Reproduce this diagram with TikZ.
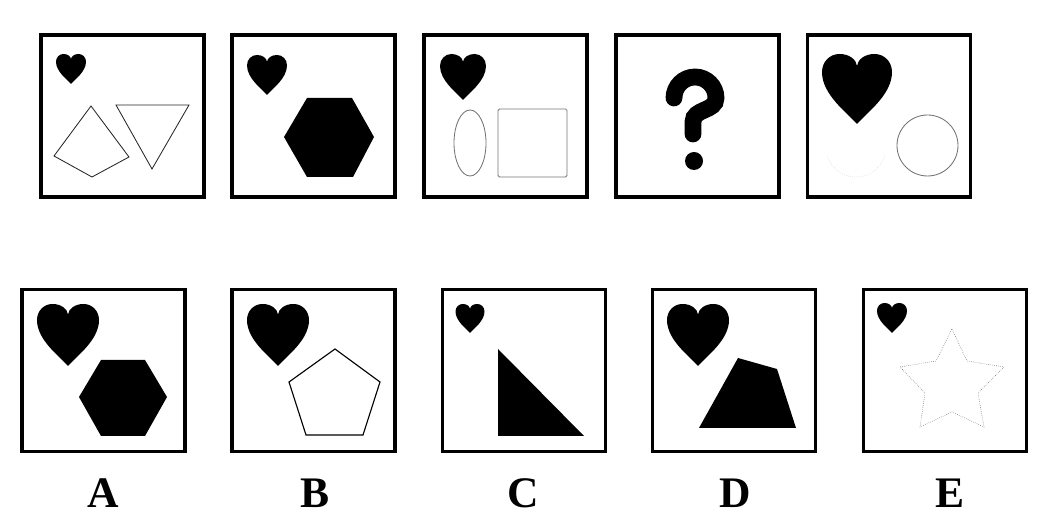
\documentclass[tikz,border=0pt]{standalone}
\usepackage{fontspec}
\setmainfont{Liberation Serif}
\usetikzlibrary{positioning}

\tikzset{
  heart/.pic={\fill (0,1) .. controls (-0.14,0.84) and (-0.5,0.58) .. (-0.5,0.26)
     .. controls (-0.5,0.11) and (-0.39,0) .. (-0.25,0)
     .. controls (-0.11,0) and (-0.01,0.08) .. (0,0.17)
     .. controls (0.01,0.08) and (0.11,0) .. (0.25,0)
     .. controls (0.39,0) and (0.5,0.11) .. (0.5,0.26)
     .. controls (0.5,0.58) and (0.14,0.84) .. (0,1) -- cycle;}
}

\begin{document}
\begin{tikzpicture}[
    x=0.025cm, y=-0.025cm,
    panel/.style={draw, line width=2.6pt, inner sep=0pt,
                  minimum width=4.07cm, minimum height=4.05cm},
    lbl/.style={font=\fontsize{31}{31}\selectfont\bfseries, inner sep=0pt},
    outline/.style={line width=0.6pt, black!85},
    grayline/.style={line width=0.6pt, black!55},
]
\useasboundingbox (0,0) rectangle (1054,523);

% question row
\node[panel] (p1) at (122.5,116) {};
\node[panel] (p2) at (313.5,116) {};
\node[panel] (p3) at (505.5,116) {};
\node[panel] (p4) at (697.5,116) {};
\node[panel] (p5) at (889,116) {};

\pic[scale=30] at (71,54) {heart};
\draw[outline] (91,106) -- (54,156) -- (92,177) -- (129,157) -- cycle;
\draw[outline] (116,105) -- (189,105) -- (152,169) -- cycle;

\pic[scale=40] at (267,55) {heart};
\fill (307,98) -- (352,98) -- (374,137) -- (353,177) -- (307,177) -- (284,137) -- cycle;

\pic[scale=46] at (463,54) {heart};
\draw[grayline] (470,143) ellipse[x radius=16, y radius=33];
\draw[grayline, rounded corners=1pt] (498,109) rectangle (567,177);

\draw[line width=0.42cm, line cap=round] (674,98) arc[start angle=180, end angle=360, radius=21]
    .. controls (716,112) and (693,108) .. (693,122) -- (693,134);
\fill (694,161) circle[radius=9];

\pic[scale=70] at (857,54) {heart};
\draw[black!12, line width=0.5pt, densely dotted] (856,147) ++(15:30) arc[start angle=15, end angle=165, radius=30];
\draw[grayline] (927.5,145.5) circle[radius=30.5];

% answer row
\node[panel] (a) at (103.5,370.5) {};
\node[panel] (b) at (313.5,370.5) {};
\node[panel] (c) at (524,370.5) {};
\node[panel] (d) at (734,370.5) {};
\node[panel] (e) at (945,370.5) {};

\pic[scale=62] at (68,304) {heart};
\fill (101,360) -- (145,360) -- (167,397) -- (145,436) -- (101,436) -- (79,397) -- cycle;

\pic[scale=62] at (278,304) {heart};
\draw[line width=0.8pt] (335,349) -- (380,382) -- (363,435) -- (306,435) -- (289,382) -- cycle;

\pic[scale=29] at (470,304) {heart};
\fill (498,349) -- (498,436) -- (584,436) -- cycle;

\pic[scale=62] at (698,304) {heart};
\fill (738,358) -- (777,369) -- (796,428) -- (699,428) -- cycle;

\pic[scale=30] at (892,303) {heart};
\draw[black!60, line width=0.4pt, densely dotted] (952,329) -- (967,361) -- (1004,367) -- (978,393)
    -- (984,427) -- (952,412) -- (920,427) -- (925,393) -- (900,367) -- (936,361) -- cycle;

\node[lbl] (la) at (103,493) {A};
\node[lbl] (lb) at (315,493) {B};
\node[lbl] (lc) at (523,493) {C};
\node[lbl] (ld) at (735,493) {D};
\node[lbl] (le) at (950,493) {E};
\end{tikzpicture}
\end{document}
